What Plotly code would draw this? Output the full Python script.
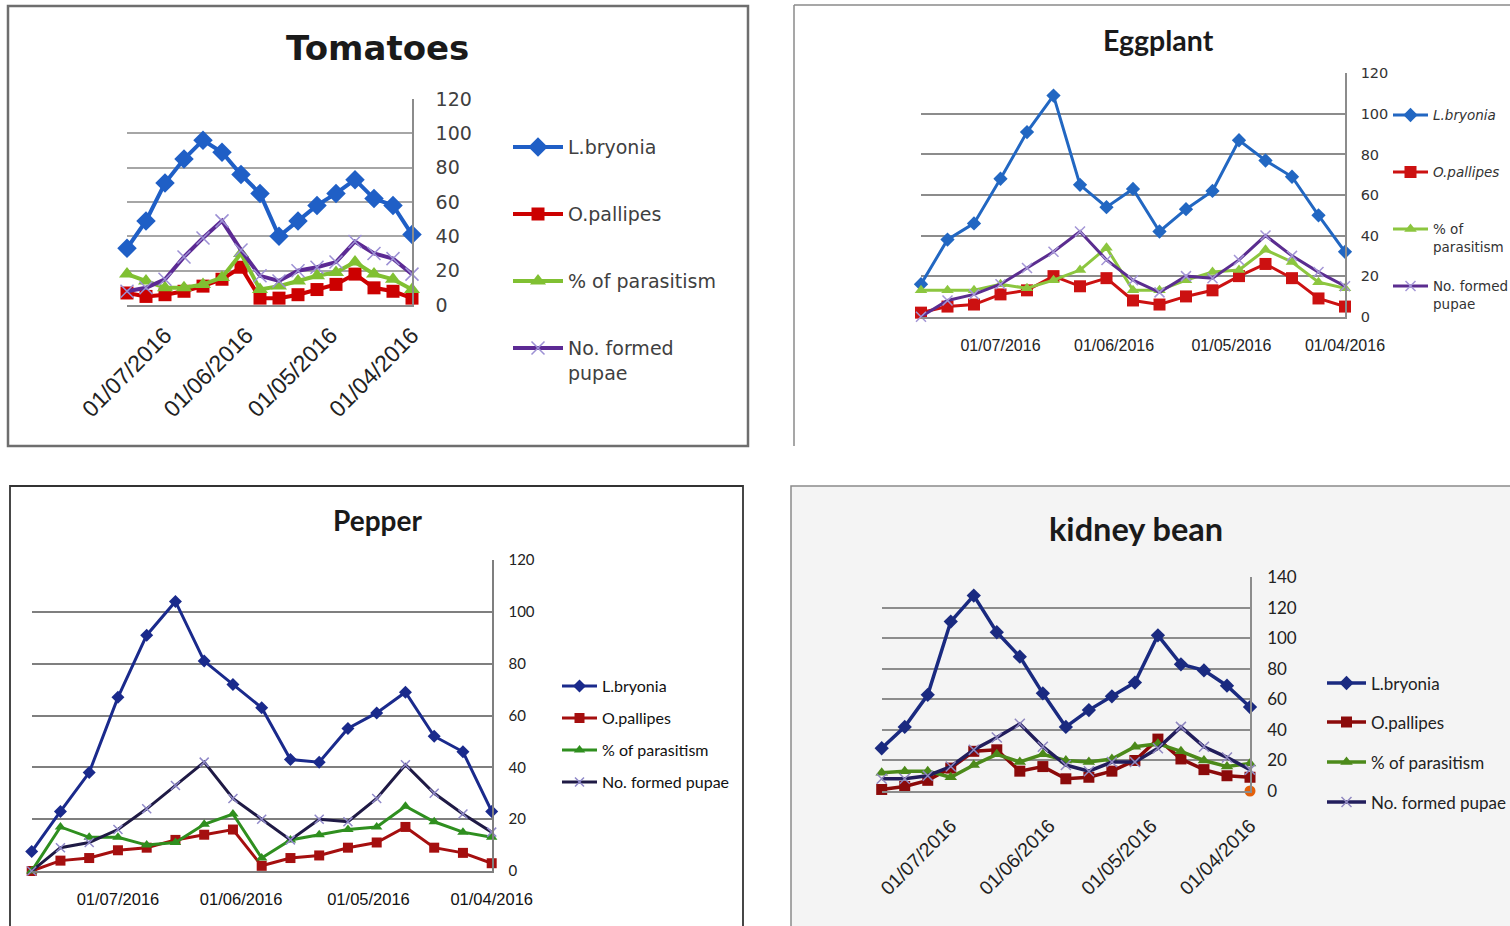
import plotly.graph_objects as go

W, H = 1510, 926

# ---------------- data ----------------
dates16 = ["2016-07-15", "2016-07-08", "2016-07-01", "2016-06-24", "2016-06-17", "2016-06-10",
           "2016-06-03", "2016-05-27", "2016-05-20", "2016-05-13", "2016-05-06", "2016-04-29",
           "2016-04-22", "2016-04-15", "2016-04-08", "2016-04-01"]
dates17 = ["2016-07-22"] + dates16

tick_dates = ["2016-07-01", "2016-06-01", "2016-05-01", "2016-04-01"]
tick_labels = ["01/07/2016", "01/06/2016", "01/05/2016", "01/04/2016"]

series_names = ["L.bryonia", "O.pallipes", "% of parasitism", "No. formed pupae"]

tom_bryonia = [33, 49, 71, 85, 96, 89, 76, 65, 40, 49, 58, 65, 73, 62, 58, 41]
tom_pallipes = [7, 5, 6, 8, 11, 15, 22, 4, 4, 6, 9, 12, 18, 10, 8, 4]
tom_parasitism = [18, 14, 10, 10, 12, 16, 30, 9, 11, 14, 17, 19, 25, 18, 15, 9]
tom_pupae = [8, 10, 15, 28, 39, 49, 32, 17, 14, 20, 22, 25, 37, 30, 27, 18]

egg_bryonia = [16, 38, 46, 68, 91, 109, 65, 54, 63, 42, 53, 62, 87, 77, 69, 50, 32]
egg_pallipes = [2, 5, 6, 11, 13, 20, 15, 19, 8, 6, 10, 13, 20, 26, 19, 9, 5]
egg_parasitism = [13, 13, 13, 16, 14, 18, 23, 34, 13, 13, 18, 22, 23, 33, 27, 17, 14]
egg_pupae = [0, 8, 11, 16, 24, 32, 42, 28, 18, 12, 20, 19, 28, 40, 30, 22, 15]

pep_bryonia = [7.5, 23, 38, 67, 91, 104, 81, 72, 63, 43, 42, 55, 61, 69, 52, 46, 23]
pep_pallipes = [0, 4, 5, 8, 9, 12, 14, 16, 2, 5, 6, 9, 11, 17, 9, 7, 3]
pep_parasitism = [0, 17, 13, 13, 10, 11, 18, 22, 5, 12, 14, 16, 17, 25, 19, 15, 13]
pep_pupae = [0, 9, 11, 16, 24, 33, 42, 28, 20, 12, 20, 19, 28, 41, 30, 22, 15]

kid_bryonia = [28, 42, 63, 111, 128, 104, 88, 64, 42, 53, 62, 71, 102, 83, 79, 69, 55]
kid_pallipes = [1, 3, 7, 15, 26, 27, 13, 16, 8, 9, 13, 20, 34, 21, 14, 10, 9]
kid_parasitism = [12, 13, 13, 9, 17, 24, 19, 24, 20, 19, 21, 29, 31, 26, 20, 16, 18]
kid_pupae = [8, 8, 10, 16, 27, 35, 44, 29, 17, 13, 19, 19, 28, 42, 29, 22, 14]
kid_extra_date = ["2016-04-01"]
kid_extra_value = [0]


def px(x):
    return x / W


def py(y):
    return 1 - y / H


panels = [
    dict(title="<b>Tomatoes</b>", title_xy=(377, 48), title_font=dict(family="DejaVu Sans", size=34, color="#1a1a1a"),
         dates=dates16, data=[tom_bryonia, tom_pallipes, tom_parasitism, tom_pupae],
         names=["L.bryonia", "O.pallipes", "% of parasitism", "No. formed<br>pupae"],
         colors=["#1F5FC6", "#CC0000", "#80C032", "#5C2A94"], xcol="#9C90D4",
         lw=4, msize=[15, 13, 14, 13],
         dom_x=(127, 412), dom_y=(99, 305), yrange=[0, 120],
         ytick_font=dict(family="DejaVu Sans", size=19, color="#404040"), ystand=18,
         xtick_font=dict(family="Liberation Sans", size=23, color="#222"), xangle=-45, xstand=6,
         grid="#A6A6A6", axis="#8C8C8C",
         leg_font=dict(family="DejaVu Sans", size=19, color="#404040"), leg_x=514, leg_w=50,
         leg_y=[147, 214, 281, 348]),
    dict(title="<b>Eggplant</b>", title_xy=(1158, 40), title_font=dict(family="Lato", size=28.5, color="#1a1a1a"),
         dates=dates17, data=[egg_bryonia, egg_pallipes, egg_parasitism, egg_pupae],
         names=["<i>L.bryonia</i>", "<i>O.pallipes</i>", "% of<br>parasitism", "No. formed<br>pupae"],
         colors=["#2267C2", "#CC1111", "#8CC63F", "#5B2D90"], xcol="#A496D6",
         lw=3, msize=[11, 12, 11, 10],
         dom_x=(921, 1345), dom_y=(73.3, 316.7), yrange=[0, 120],
         ytick_font=dict(family="DejaVu Sans", size=14.5, color="#333"), ystand=11,
         xtick_font=dict(family="Liberation Sans", size=16, color="#222"), xangle=0, xstand=13,
         grid="#8C8C8C", axis="#8C8C8C",
         leg_font=dict(family="DejaVu Sans", size=13.5, color="#333"), leg_x=1394, leg_w=35,
         leg_y=[115, 172, 229, 286]),
    dict(title="<b>Pepper</b>", title_xy=(377, 520), title_font=dict(family="Lato", size=28, color="#1a1a1a"),
         dates=dates17, data=[pep_bryonia, pep_pallipes, pep_parasitism, pep_pupae],
         names=series_names,
         colors=["#1A2A8C", "#A50F0F", "#2F8F1F", "#1F1A45"], xcol="#8F88C8",
         lw=3, msize=[10, 10, 10, 9],
         dom_x=(31.7, 491.7), dom_y=(560, 871), yrange=[0, 120],
         ytick_font=dict(family="Lato", size=15, color="#222"), ystand=12,
         xtick_font=dict(family="Liberation Sans", size=16.5, color="#111"), xangle=0, xstand=12,
         grid="#7F7F7F", axis="#7F7F7F",
         leg_font=dict(family="Lato", size=16, color="#111"), leg_x=563, leg_w=35,
         leg_y=[686, 718, 750, 782]),
    dict(title="<b>kidney bean</b>", title_xy=(1136, 528), title_font=dict(family="Lato", size=32.5, color="#1a1a1a"),
         dates=dates17, data=[kid_bryonia, kid_pallipes, kid_parasitism, kid_pupae],
         names=series_names,
         colors=["#1A2A80", "#8B0A0A", "#4C8A1A", "#221E5C"], xcol="#9088C0",
         lw=3.5, msize=[11, 11, 11, 10],
         dom_x=(881.7, 1250), dom_y=(577.3, 791), yrange=[0, 140],
         ytick_font=dict(family="Lato", size=17, color="#222"), ystand=12,
         xtick_font=dict(family="Liberation Sans", size=19.5, color="#222"), xangle=-45, xstand=14,
         grid="#8C8C8C", axis="#8C8C8C",
         leg_font=dict(family="Lato", size=17, color="#222"), leg_x=1328, leg_w=39,
         leg_y=[683, 722, 762, 802]),
]

symbols = ["diamond", "square", "triangle-up", "x-thin"]

fig = go.Figure()
layout = dict(width=W, height=H, margin=dict(l=0, r=0, t=0, b=0, pad=0, autoexpand=False),
              paper_bgcolor="white", plot_bgcolor="rgba(0,0,0,0)", showlegend=True)
annotations = []
shapes = []

for p, pn in enumerate(panels):
    xa = "xaxis" if p == 0 else f"xaxis{p + 1}"
    ya = "yaxis" if p == 0 else f"yaxis{p + 1}"
    xr = "x" if p == 0 else f"x{p + 1}"
    yr = "y" if p == 0 else f"y{p + 1}"
    layout[xa] = dict(domain=[px(pn["dom_x"][0]), px(pn["dom_x"][1])], anchor=yr, type="date",
                      range=[pn["dates"][0], pn["dates"][-1]],
                      tickmode="array", tickvals=tick_dates, ticktext=tick_labels,
                      tickangle=pn["xangle"], tickfont=pn["xtick_font"], ticks="",
                      ticklabelstandoff=pn["xstand"], automargin=False,
                      showgrid=False, showline=True, linecolor=pn["axis"], linewidth=1.5,
                      zeroline=False, fixedrange=True)
    layout[ya] = dict(domain=[py(pn["dom_y"][1]), py(pn["dom_y"][0])], anchor=xr, side="right",
                      range=pn["yrange"], dtick=20, tick0=0, tickfont=pn["ytick_font"],
                      ticks="", ticklabelstandoff=pn["ystand"], automargin=False,
                      showgrid=True, gridcolor=pn["grid"], gridwidth=1.5,
                      showline=True, linecolor=pn["axis"], linewidth=1.5, zeroline=False,
                      fixedrange=True)
    annotations.append(dict(text=pn["title"], x=px(pn["title_xy"][0]), y=py(pn["title_xy"][1]),
                            xref="paper", yref="paper", xanchor="center", yanchor="middle",
                            showarrow=False, font=pn["title_font"]))
    for s in range(4):
        idx = p * 4 + s
        lg = "legend" if idx == 0 else f"legend{idx + 1}"
        col = pn["colors"][s]
        if symbols[s] == "x-thin":
            marker = dict(symbol="x-thin", size=pn["msize"][s], line=dict(color=pn["xcol"], width=1.5),
                          color=pn["xcol"])
        else:
            marker = dict(symbol=symbols[s], size=pn["msize"][s], color=col,
                          line=dict(color=col, width=0))
        fig.add_trace(go.Scatter(x=pn["dates"], y=pn["data"][s], name=pn["names"][s],
                                 mode="lines+markers", line=dict(color=col, width=pn["lw"]),
                                 marker=marker, xaxis=xr, yaxis=yr, legend=lg,
                                 cliponaxis=False, hoverinfo="skip"))
        fs = pn["leg_font"]["size"]
        layout[lg] = dict(x=px(pn["leg_x"] - 6), y=py(pn["leg_y"][s] - fs * 0.65 - 6.5),
                          xanchor="left", yanchor="top", bgcolor="rgba(0,0,0,0)",
                          font=pn["leg_font"], itemwidth=max(30, pn["leg_w"]), valign="top",
                          borderwidth=0)

# stray orange point in kidney bean chart
fig.add_trace(go.Scatter(x=kid_extra_date, y=kid_extra_value, mode="markers",
                         marker=dict(symbol="circle", size=11, color="#E4600A"),
                         xaxis="x4", yaxis="y4", showlegend=False, cliponaxis=False, hoverinfo="skip"))

# panel frames
shapes.append(dict(type="rect", xref="paper", yref="paper", x0=px(8), x1=px(748), y0=py(446), y1=py(6),
                   line=dict(color="#6E6E6E", width=2.5), layer="below"))
shapes.append(dict(type="line", xref="paper", yref="paper", x0=px(794), x1=px(794), y0=py(446), y1=py(5),
                   line=dict(color="#8A8A8A", width=1.5), layer="below"))
shapes.append(dict(type="line", xref="paper", yref="paper", x0=px(794), x1=px(1512), y0=py(5), y1=py(5),
                   line=dict(color="#8A8A8A", width=1.5), layer="below"))
shapes.append(dict(type="path", xref="paper", yref="paper",
                   path=f"M {px(10)},{py(930)} L {px(10)},{py(486)} L {px(743)},{py(486)} L {px(743)},{py(930)}",
                   line=dict(color="#333333", width=1.8), layer="below"))
shapes.append(dict(type="rect", xref="paper", yref="paper", x0=px(791), x1=px(1515), y0=py(930), y1=py(486),
                   fillcolor="#F4F4F4", line=dict(color="#8A8A8A", width=1.5), layer="below"))

layout["annotations"] = annotations
layout["shapes"] = shapes
fig.update_layout(**layout)
fig.write_html("out.html", config={"displayModeBar": False, "staticPlot": False},
               post_script="document.body.style.margin='0';document.body.style.overflow='hidden';")
